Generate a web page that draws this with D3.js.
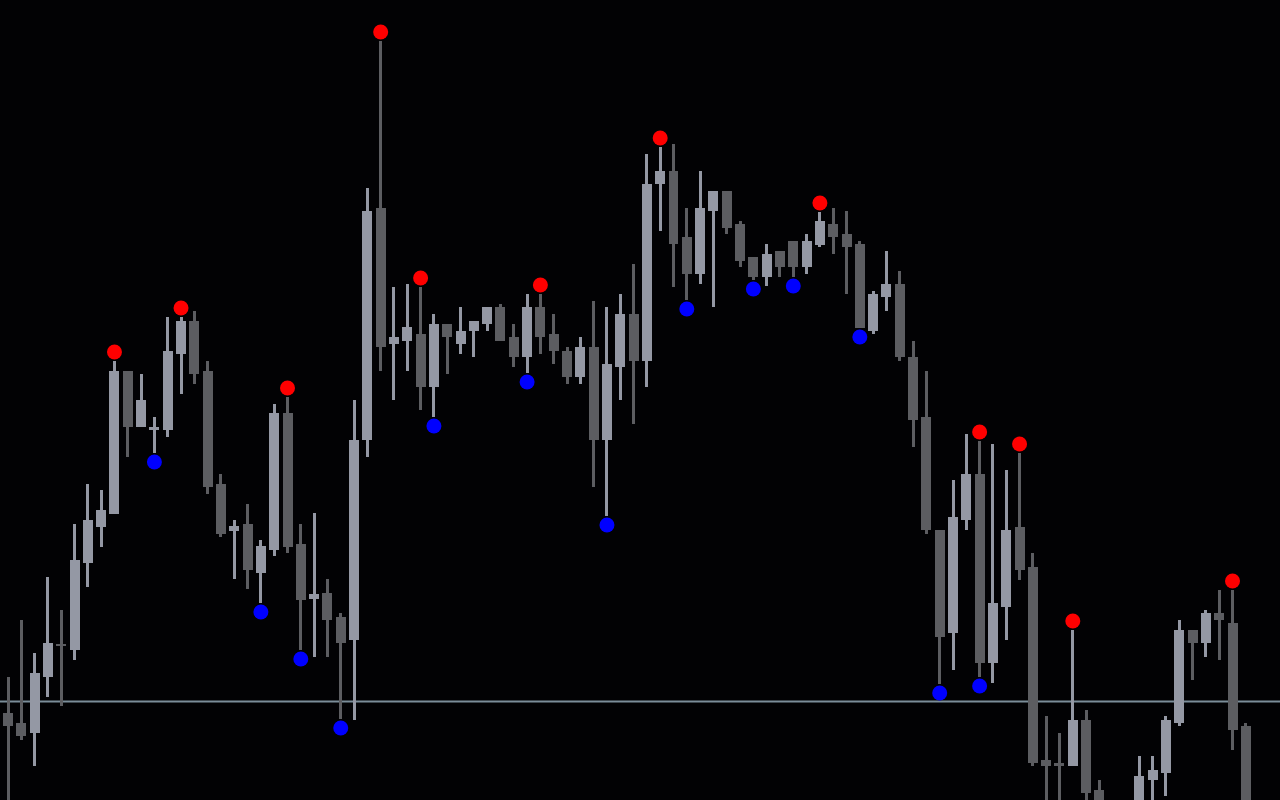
<!DOCTYPE html>
<html>
<head>
<meta charset="utf-8">
<script src="https://cdn.jsdelivr.net/npm/d3@7"></script>
<style>
html,body{margin:0;padding:0;background:#020204;overflow:hidden;}
svg{display:block;}
</style>
</head>
<body>
<svg id="chart" width="1280" height="800"></svg>
<script>
// OHLC data (price units)
const opens  = [78.7,77.7,76.7,82.3,85.6,85.0,93.7,97.3,98.6,112.9,107.3,107.0,107.0,114.6,117.9,112.9,101.6,96.9,97.6,92.7,95.0,108.7,95.6,90.1,90.7,88.3,86.0,106.0,129.2,115.6,115.9,116.6,111.3,117.6,115.6,116.9,117.6,119.3,116.3,114.3,119.3,116.6,114.9,112.3,115.3,106.0,113.3,118.6,113.9,131.6,132.9,126.3,122.6,128.9,130.9,127.6,124.3,122.3,124.9,125.9,123.3,125.5,127.6,126.6,125.6,116.9,120.3,121.6,114.3,108.3,97.0,86.7,98.0,102.6,83.7,89.3,97.3,93.3,74.0,73.7,73.4,78.0,71.0,68.5,66.5,68.5,72.0,72.7,77.7,87.0,85.7,88.7,87.7,77.4];
const highs  = [82.3,88.0,84.7,92.3,89.0,97.6,101.6,101.0,113.9,112.9,112.6,108.3,118.3,118.3,118.9,113.9,102.6,98.0,99.6,96.0,109.6,110.3,97.6,98.7,92.1,88.7,110.0,131.2,145.9,121.3,121.6,121.3,118.6,117.6,119.3,117.9,119.3,119.6,117.6,120.6,120.6,118.6,115.3,116.3,119.9,119.3,120.6,123.6,134.6,135.3,135.6,129.2,132.9,130.9,130.9,127.9,124.3,125.6,124.9,125.9,126.6,128.8,129.2,128.9,125.9,120.9,124.9,122.9,115.9,112.9,97.0,102.0,106.6,105.9,105.6,103.0,104.7,94.7,78.4,76.7,87.0,79.0,72.0,69.4,69.6,74.4,74.4,78.4,88.0,87.0,89.0,91.0,91.0,77.7];
const lows   = [69.0,76.0,73.4,80.3,79.4,84.0,91.3,95.3,98.6,104.3,107.3,104.7,106.3,110.6,111.6,100.6,96.3,92.1,91.1,89.7,94.4,94.7,85.0,84.3,84.3,78.1,78.0,104.3,112.9,110.0,112.9,109.0,108.3,112.6,114.6,114.3,116.9,115.9,113.3,112.7,114.6,113.6,111.6,111.6,101.3,98.4,110.0,107.6,111.3,126.9,121.3,120.0,121.6,119.3,126.6,123.3,122.0,121.4,122.3,122.3,122.6,125.3,124.6,120.6,117.2,116.6,118.9,113.9,105.3,96.6,81.6,83.0,97.0,82.3,81.7,86.0,92.0,73.4,68.0,67.0,73.4,67.0,64.0,63.5,65.5,67.5,69.0,70.4,77.4,82.0,84.3,84.0,75.0,65.0];
const closes = [77.4,76.4,82.7,85.7,85.4,94.0,98.0,99.0,112.9,107.3,110.0,107.3,114.9,117.9,112.6,101.3,96.6,97.4,93.0,95.4,108.7,95.3,90.0,90.6,88.0,85.7,106.0,128.9,115.3,116.3,117.3,111.3,117.6,116.3,116.9,117.9,119.3,115.9,114.3,119.3,116.3,114.9,112.3,115.3,106.0,113.6,118.6,113.9,131.6,132.9,125.6,122.6,129.2,130.9,127.2,123.9,122.3,124.6,123.3,123.3,125.9,127.9,126.3,125.3,117.2,120.6,121.6,114.3,108.0,97.0,86.3,98.3,102.6,83.7,89.7,97.0,93.0,73.7,73.4,73.4,78.0,70.7,66.0,65.5,68.8,72.4,73.0,78.0,87.0,85.7,88.7,88.0,77.0,67.0];
// fractal-style markers (candle indices)
const upMarks   = [8,13,21,28,31,40,49,61,73,76,80,92];
const downMarks = [11,19,22,25,32,39,45,51,56,59,64,70,73];
const levelLine = [79.85];

const W = 1280, H = 800;
const bullColor = "#9498a4", bearColor = "#5c5d61";
const svg = d3.select("#chart");
svg.append("rect").attr("width", W).attr("height", H).attr("fill", "#020204");

const idx = d3.range(opens.length);
const step = 13.31;
const x = d3.scaleBand().domain(idx).range([8 - step / 2, 8 - step / 2 + step * opens.length]).paddingInner(0.25).paddingOuter(0.125);
const y = d3.scaleLinear().domain([70, 150]).range([H, 0]);
const cx = i => x(i) + x.bandwidth() / 2;

// level line
svg.selectAll(".lvl").data(levelLine).enter().append("rect")
  .attr("x", 0).attr("width", W)
  .attr("y", d => y(d) - 1).attr("height", 2)
  .attr("fill", "#7b8d99");

const g = svg.append("g").attr("shape-rendering", "crispEdges");
const candles = g.selectAll(".c").data(idx).enter().append("g");
candles.append("rect")
  .attr("x", i => cx(i) - 1.5).attr("width", 3)
  .attr("y", i => y(highs[i]))
  .attr("height", i => Math.max(1, y(lows[i]) - y(highs[i])))
  .attr("fill", i => closes[i] >= opens[i] ? bullColor : bearColor);
candles.append("rect")
  .attr("x", i => x(i)).attr("width", x.bandwidth())
  .attr("y", i => y(Math.max(opens[i], closes[i])))
  .attr("height", i => Math.max(2, Math.abs(y(opens[i]) - y(closes[i]))))
  .attr("fill", i => closes[i] >= opens[i] ? bullColor : bearColor);

svg.selectAll(".up").data(upMarks).enter().append("circle")
  .attr("cx", i => cx(i)).attr("cy", i => y(highs[i]) - 9).attr("r", 7.5)
  .attr("fill", "#ff0000");
svg.selectAll(".dn").data(downMarks).enter().append("circle")
  .attr("cx", i => cx(i)).attr("cy", i => y(lows[i]) + 9).attr("r", 7.5)
  .attr("fill", "#0000ff");
</script>
</body>
</html>
